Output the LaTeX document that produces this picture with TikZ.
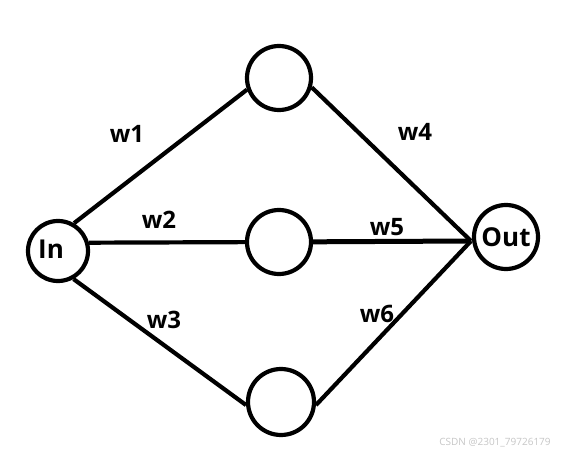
\documentclass[tikz,border=0pt]{standalone}
\usepackage{fontspec}
\setmainfont{Open Sans}
\begin{document}
\begin{tikzpicture}[x=1pt,y=-1pt,
  neuron/.style={circle,draw=black,line width=4.2pt,inner sep=0pt,fill=white},
  conn/.style={line width=4.2pt,draw=black},
  wlab/.style={font=\fontsize{24}{24}\selectfont\bfseries,inner sep=0pt},
  iolab/.style={font=\fontsize{26}{26}\selectfont\bfseries}]
\useasboundingbox (0,0) rectangle (562,454);
\fill[white] (0,0) rectangle (562,454);
\node[neuron,minimum size=60pt] (in) at (58,251) {};
\node[neuron,minimum size=64pt] (top) at (279,78) {};
\node[neuron,minimum size=64pt] (mid) at (279,242) {};
\node[neuron,minimum size=66pt] (bot) at (281,402) {};
\node[neuron,minimum size=64pt] (out) at (506,237) {};
\coordinate (conv) at (471,241);
\draw[conn] (in.60) -- (top.200);
\draw[conn] (in.15) -- (mid);
\draw[conn] (in.-61) -- (bot.185);
\draw[conn] (top.-16) -- (conv);
\draw[conn,line width=5pt] (mid) -- (conv);
\draw[conn] (bot.-5) -- (conv);
\node[iolab] (intext) at (51,249) {In};
\node[iolab] (outtext) at (506,237) {Out};
\node[wlab] (w1) at (127,134) {w1};
\node[wlab] (w2) at (159,220) {w2};
\node[wlab] (w3) at (164,320) {w3};
\node[wlab] (w4) at (415,132) {w4};
\node[wlab] (w5) at (387,227) {w5};
\node[wlab] (w6) at (377,314) {w6};
\node[font=\fontsize{10}{10}\selectfont,text=black!22,inner sep=0pt] (wm) at (495,443) {CSDN @2301\_79726179};
\end{tikzpicture}
\end{document}
